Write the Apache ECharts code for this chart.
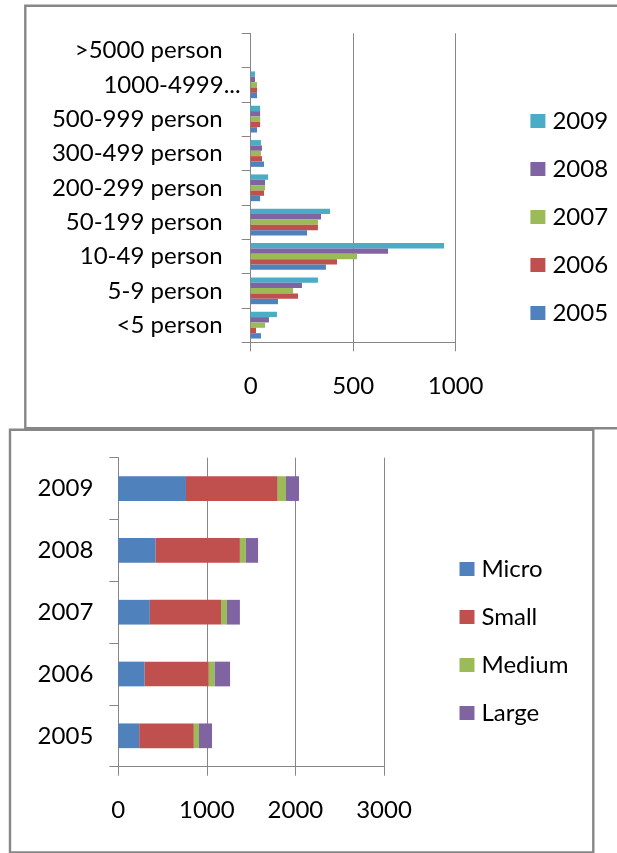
<!DOCTYPE html>
<html>
<head>
<meta charset="utf-8">
<script src="https://cdn.jsdelivr.net/npm/echarts@6/dist/echarts.min.js"></script>
<style>
  html, body { margin: 0; padding: 0; background: #fff; }
  #chart { width: 617px; height: 853px; }
</style>
</head>
<body>
<div id="chart"></div>
<script>
// Enterprises by number of persons employed, 2005-2009
const sizeClasses = ['<5 person', '5-9 person', '10-49 person', '50-199 person', '200-299 person',
                     '300-499 person', '500-999 person', '1000-4999 person', '>5000 person'];
const y2005 = [50, 133, 367, 275, 46, 65, 31, 31, null];
const y2006 = [26, 231, 421, 328, 65, 55, 46, 31, null];
const y2007 = [70, 207, 519, 328, 70, 50, 46, 31, null];
const y2008 = [89, 250, 670, 343, 70, 55, 46, 21, null];
const y2009 = [128, 328, 943, 387, 85, 50, 46, 21, null];
const sizeTicks = [0, 500, 1000];

// Enterprises by size group, stacked per year
const years = ['2005', '2006', '2007', '2008', '2009'];
const micro = [236, 298, 356, 422, 764];
const small = [617, 724, 804, 951, 1036];
const medium = [58, 67, 67, 67, 93];
const large = [147, 173, 146, 138, 147];
const totalTicks = [0, 1000, 2000, 3000];

const FONT = 'Lato';
const GRAY = '#868686';
const COLORS = { blue: '#4F81BD', red: '#C0504D', green: '#9BBB59', purple: '#8064A2', aqua: '#4BACC6' };

const chart = echarts.init(document.getElementById('chart'), null, { renderer: 'canvas' });

const baseText = { fontFamily: FONT, fontSize: 24, color: '#000', lineHeight: 24 };

function valueAxis(gridIndex, ticks) {
  return {
    type: 'value', gridIndex,
    min: ticks[0], max: ticks[ticks.length - 1], interval: ticks[1] - ticks[0],
    axisLine: { show: true, lineStyle: { color: GRAY, width: 1 } },
    axisTick: { show: true, length: 9, lineStyle: { color: GRAY } },
    splitLine: { show: true, lineStyle: { color: GRAY, width: 1 } },
    axisLabel: Object.assign({ margin: 32, formatter: v => String(v) }, baseText)
  };
}

function categoryAxis(gridIndex, data, labelOpts) {
  return {
    type: 'category', gridIndex, data,
    axisLine: { show: true, lineStyle: { color: GRAY, width: 1 } },
    axisTick: { show: true, length: 9, lineStyle: { color: GRAY } },
    splitLine: { show: false },
    axisLabel: Object.assign({ interval: 0 }, baseText, labelOpts)
  };
}

const yearSeries = [
  ['2009', y2009, COLORS.aqua],
  ['2008', y2008, COLORS.purple],
  ['2007', y2007, COLORS.green],
  ['2006', y2006, COLORS.red],
  ['2005', y2005, COLORS.blue]
].map(([name, data, color]) => ({
  name, type: 'bar', data, xAxisIndex: 0, yAxisIndex: 0,
  barGap: '0%', barCategoryGap: '22%',
  itemStyle: { color }
}));

const groupSeries = [
  ['Micro', micro, COLORS.blue],
  ['Small', small, COLORS.red],
  ['Medium', medium, COLORS.green],
  ['Large', large, COLORS.purple]
].map(([name, data, color]) => ({
  name, type: 'bar', stack: 'total', data, xAxisIndex: 1, yAxisIndex: 1,
  barCategoryGap: '60%',
  itemStyle: { color }
}));

const legendBase = {
  orient: 'vertical', itemWidth: 15, itemHeight: 14, itemGap: 24,
  icon: 'rect', selectedMode: false,
  textStyle: Object.assign({ padding: [0, 0, 0, 2] }, baseText)
};

chart.setOption({
  backgroundColor: '#fff',
  animation: false,
  graphic: [
    { type: 'rect', z: -10, shape: { x: 25.3, y: 5.8, width: 620, height: 422.5 },
      style: { fill: null, stroke: '#878787', lineWidth: 2.4 } },
    { type: 'rect', z: -10, shape: { x: 10, y: 429.7, width: 583.3, height: 422.7 },
      style: { fill: null, stroke: '#878787', lineWidth: 2.4 } }
  ],
  grid: [
    { left: 250.7, top: 33.3, width: 205, height: 309, outerBoundsMode: 'none', containLabel: false },
    { left: 118.3, top: 457.7, width: 265.7, height: 309, outerBoundsMode: 'none', containLabel: false }
  ],
  xAxis: [valueAxis(0, sizeTicks), valueAxis(1, totalTicks)],
  yAxis: [
    categoryAxis(0, sizeClasses, {
      margin: 10,
      // the widest class name is shortened with an ellipsis, sitting closer to the axis
      formatter: v => v === '1000-4999 person' ? '{c|1000-4999...}' : '{p|' + v + '}',
      rich: {
        c: Object.assign({}, baseText),
        p: Object.assign({ padding: [0, 18, 0, 0] }, baseText)
      }
    }),
    categoryAxis(1, years, { margin: 25 })
  ],
  legend: [
    Object.assign({ left: 525.4, top: 104, data: ['2009', '2008', '2007', '2006', '2005'] }, legendBase),
    Object.assign({ left: 454.5, top: 552, data: ['Micro', 'Small', 'Medium', 'Large'] }, legendBase)
  ],
  series: yearSeries.concat(groupSeries)
});
</script>
</body>
</html>
